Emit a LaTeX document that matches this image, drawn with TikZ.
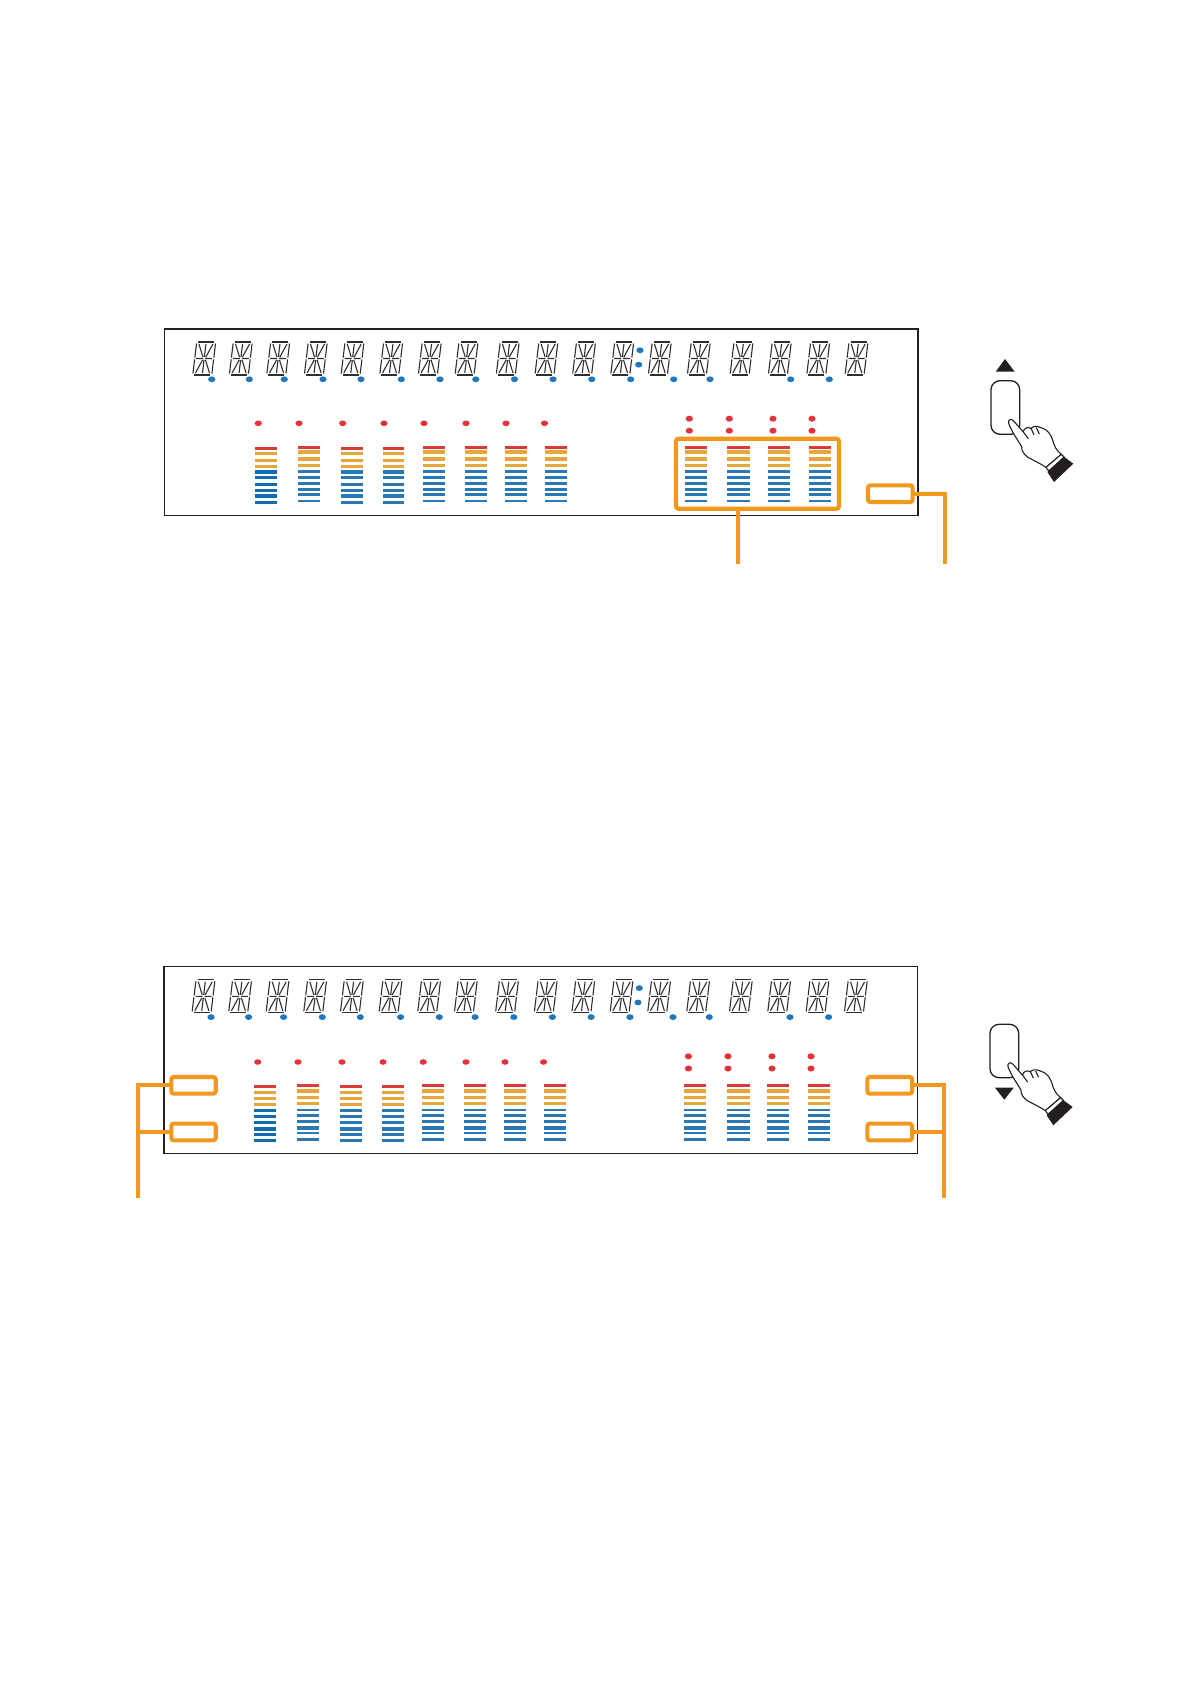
\documentclass[tikz,border=0pt]{standalone}
\definecolor{panelk}{HTML}{231F20}
\definecolor{segk}{HTML}{2F2F31}
\definecolor{oline}{HTML}{F2981F}
\definecolor{rbar}{HTML}{D93A3A}
\definecolor{obar}{HTML}{E5A73C}
\definecolor{bluea}{HTML}{2A79B5}
\definecolor{blueb}{HTML}{0F6CAE}
\definecolor{reddot}{HTML}{E5323A}
\definecolor{bluedot}{HTML}{1F78BD}
\tikzset{
  panel/.style={draw=panelk,line width=1.2pt},
  segs/.style={draw=segk,line width=1.1pt},
  bdot/.style={fill=bluedot},
  rdot/.style={fill=reddot},
  obox/.style={draw=oline,line width=4.1pt,rounded corners=2.5pt,rectangle,inner sep=0pt,outer sep=0pt},
  oconn/.style={draw=oline,line width=3.8pt},
  btn/.style={draw=panelk,line width=1.3pt,rounded corners=9pt},
  handline/.style={draw=panelk,line width=1.1pt,fill=white,line join=round},
}
\newcommand{\digitglyph}[2]{%
  \begin{scope}[shift={(#1+4,#2)},xslant=0.12]
    \draw[segs,line width=1.2pt] (1.5,0)--(17.5,0) (1.5,33)--(17.5,33);
    \draw[segs] (0,1.5)--(0,15.7) (0,17.3)--(0,31.5) (19,1.5)--(19,15.7) (19,17.3)--(19,31.5)
      (1.5,16.5)--(8.5,16.5) (10.5,16.5)--(17.5,16.5)
      (9.5,2)--(9.5,15) (9.5,18)--(9.5,31)
      (2.5,2)--(8,15) (16.5,2)--(11,15) (2.5,31)--(8,18) (16.5,31)--(11,18);
  \end{scope}}
\newcommand{\barcol}[4]{%
  \begin{scope}
  \colorlet{bbar}{#4}%
  \foreach \yy/\hh/\cc in #3{%
    \fill[\cc] (#1,\yy) rectangle (#2,\yy+\hh);}
  \end{scope}}
\def\rowsA{446.7/3.3/rbar,451.7/3.3/obar,458.6/3.3/obar,464.7/3.3/obar,470.4/3.3/bbar,475.7/3.3/bbar,482.7/3.3/bbar,488.7/3.3/bbar,494.4/3.3/bbar,500.7/3.3/bbar}
\def\rowsB{445.6/3.3/rbar,450.3/3.3/obar,457/4/obar,463.6/3.3/obar,469.6/3.3/bbar,475.6/3.3/bbar,481.6/3.3/bbar,487.6/3.3/bbar,492.6/3.3/bbar,500/2/bbar}
\def\rowsC{1084.6/3.3/rbar,1090.6/3.3/obar,1096.6/3.3/obar,1102.6/3.3/obar,1108.6/3.3/bbar,1114.6/3.3/bbar,1120.6/3.3/bbar,1127.3/3.3/bbar,1132.6/3.3/bbar,1138.6/3.3/bbar}
\def\rowsD{1083.6/3.3/rbar,1089.3/3.3/obar,1095.6/3.3/obar,1101.6/3.3/obar,1109.3/2/bbar,1113.6/3.3/bbar,1119.6/3.3/bbar,1126/4/bbar,1132/2/bbar,1137.6/3.3/bbar}
\newcommand{\handicon}{%
  \draw[handline] (146,250) .. controls (143,238) and (155,235) .. (161,243)
     -- (190,276) .. controls (190,264) and (205,260) .. (213,265)
     .. controls (220,258) and (232,258) .. (243,263)
     .. controls (262,268) and (272,282) .. (278,300)
     .. controls (282,318) and (290,332) .. (304,343)
     -- (258,382) .. controls (240,370) and (222,362) .. (204,352)
     .. controls (192,344) and (184,332) .. (185,320)
     .. controls (172,298) and (155,275) .. (146,250) -- cycle;
  \draw[handline,fill=none] (190,276) -- (205,296) (213,265) -- (222,284) (229,263) -- (238,282);
  \draw[handline] (258,382) -- (304,343) -- (313,352) -- (266,393) -- cycle;
  \fill[panelk] (262,396) -- (311,350) -- (340,371) -- (282,426) -- cycle;}
\begin{document}
\begin{tikzpicture}[x=1pt,y=-1pt]
\useasboundingbox (0,0) rectangle (1190,1684);
\fill[white] (0,0) rectangle (1190,1684);
% upper panel
\draw[panel] (164.5,329) rectangle (918,515.5);
\foreach \x in {192.7,229.3,266.7,304.3,341,379.7,418.3,455,496.2,534.9,572.5,610.7,648.3,687.3,730,768.3,806.7,845}
  \digitglyph{\x}{342};
\foreach \x in {211.7,249.3,284.3,323,361,401.3,440,475.8,514.5,553.1,591.8,630.7,673.7,710,790.7,829.3}
  \fill[bdot] (\x,379.3) ellipse (3.6 and 2.9);
\fill[bdot] (640,350.3) ellipse (3.6 and 2.9) (638.7,364.7) ellipse (3.6 and 2.9);
\foreach \x in {258.3,299,342.7,384,424,466,506,544.5}
  \fill[rdot] (\x,423.3) ellipse (3.6 and 2.8);
\foreach \x in {689.3,729.3,773,812}{
  \fill[rdot] (\x,418.7) ellipse (3.6 and 3);
  \fill[rdot] (\x,430.7) ellipse (3.6 and 3);}
\barcol{255}{277}{\rowsA}{blueb}
\barcol{298}{320}{\rowsB}{bluea}
\barcol{341}{363}{\rowsA}{bluea}
\barcol{383}{404}{\rowsA}{bluea}
\barcol{423}{445}{\rowsB}{bluea}
\barcol{465}{486.5}{\rowsB}{bluea}
\barcol{505}{527}{\rowsB}{bluea}
\barcol{544.5}{567}{\rowsB}{bluea}
\barcol{685}{707}{\rowsB}{bluea}
\barcol{727}{750}{\rowsB}{bluea}
\barcol{768}{790}{\rowsB}{bluea}
\barcol{809}{831}{\rowsB}{bluea}
\node[obox,minimum width=163pt,minimum height=70pt] (upbig) at (757.5,473.7) {};
\node[obox,minimum width=44.7pt,minimum height=16.7pt] (upsmall) at (890.3,493.7) {};
\coordinate (upbigend) at (738,563.5);
\coordinate (upsmallend) at (945.3,564);
\draw[oconn] (upbig.south -| upbigend) -- (upbigend);
\draw[oconn] (upsmall.east) -| (upsmallend);
% upper hand
\fill[panelk] (1005,359) -- (995.7,371.7) -- (1014.7,371.7) -- cycle;
\draw[btn] (991,380.7) rectangle (1019.7,434.3);
\begin{scope}[shift={(960,340)},x=0.3333pt,y=-0.3333pt]\handicon\end{scope}
% lower panel
\draw[panel] (164,966.8) rectangle (917.5,1153.3);
\foreach \x in {192,228.6,266,303.6,340.3,379,417.6,454.3,495.5,534.2,571.8,610,647.6,686.6,729.3,767.6,806,844.3}
  \digitglyph{\x}{979.8};
\foreach \x in {211,248.6,283.6,322.3,360.3,400.6,439.3,475.1,513.8,552.4,591.1,630,673,709.3,790,828.6}
  \fill[bdot] (\x,1017.1) ellipse (3.6 and 2.9);
\fill[bdot] (639.3,988.1) ellipse (3.6 and 2.9) (638,1002.5) ellipse (3.6 and 2.9);
\foreach \x in {257.7,298,342,383,423.2,466,505,543.5}
  \fill[rdot] (\x,1062) ellipse (3.6 and 2.8);
\foreach \x in {688.4,728,772,811}{
  \fill[rdot] (\x,1056.3) ellipse (3.6 and 3);
  \fill[rdot] (\x,1068.5) ellipse (3.6 and 3);}
\barcol{254}{276}{\rowsC}{blueb}
\barcol{297}{319}{\rowsD}{bluea}
\barcol{340}{362}{\rowsC}{bluea}
\barcol{382}{404}{\rowsC}{bluea}
\barcol{422.3}{444.3}{\rowsD}{bluea}
\barcol{464}{486}{\rowsD}{bluea}
\barcol{504}{526}{\rowsD}{bluea}
\barcol{544}{566}{\rowsD}{bluea}
\barcol{684}{706}{\rowsD}{bluea}
\barcol{726.5}{749.5}{\rowsD}{bluea}
\barcol{767}{789}{\rowsD}{bluea}
\barcol{808}{830}{\rowsD}{bluea}
\node[obox,minimum width=44.4pt,minimum height=16.7pt] (lowlefta) at (193.5,1085.3) {};
\node[obox,minimum width=44.4pt,minimum height=16.7pt] (lowleftb) at (193.5,1132) {};
\node[obox,minimum width=44.7pt,minimum height=16.7pt] (lowrighta) at (889.7,1085.3) {};
\node[obox,minimum width=44.7pt,minimum height=16.7pt] (lowrightb) at (889.7,1132) {};
\coordinate (lowleftend) at (138.3,1197.7);
\coordinate (lowrightend) at (944,1197.7);
\draw[oconn] (lowlefta.west) -| (lowleftend);
\draw[oconn] (lowleftb.west) -- (lowleftb.west -| lowleftend);
\draw[oconn] (lowrighta.east) -| (lowrightend);
\draw[oconn] (lowrightb.east) -- (lowrightb.east -| lowrightend);
% lower hand
\fill[panelk] (995,1087.7) -- (1013.7,1087.7) -- (1004.3,1099.7) -- cycle;
\draw[btn] (990,1024.3) rectangle (1018.7,1077.7);
\begin{scope}[shift={(959.3,983.3)},x=0.3333pt,y=-0.3333pt]\handicon\end{scope}
\end{tikzpicture}
\end{document}
